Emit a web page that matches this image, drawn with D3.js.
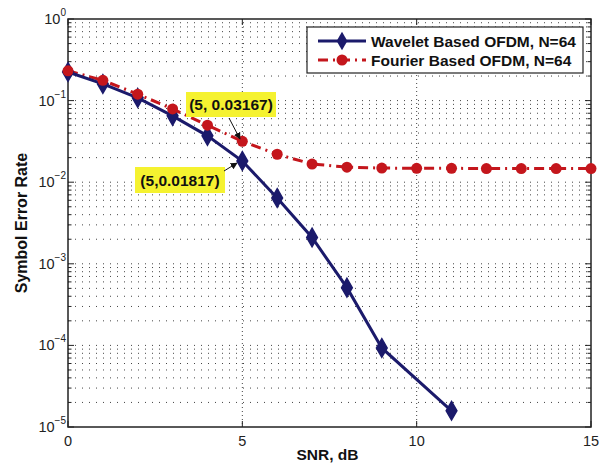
<!DOCTYPE html>
<html><head><meta charset="utf-8">
<script src="https://cdn.jsdelivr.net/npm/d3@7"></script>
<style>body{margin:0;background:#fff}svg{display:block}</style>
</head><body>
<script>
const snr = [0,1,2,3,4,5,6,7,8,9,10,11,12,13,14,15];
const waveletX = [0,1,2,3,4,5,6,7,8,9,11];
const waveletSER = [0.224,0.16,0.108,0.065,0.037,0.01817,0.0064,0.0021,0.00051,0.000093,0.0000158];
const fourierSER = [0.232,0.177,0.12,0.079,0.05,0.03167,0.022,0.0167,0.0153,0.0149,0.0148,0.0148,0.0147,0.0147,0.0147,0.0147];
const xTicks = [0,5,10,15];
const yExps = [0,-1,-2,-3,-4,-5];
const seriesNames = ["Wavelet Based OFDM, N=64","Fourier Based OFDM, N=64"];
const annotations = [
  {x:5, y:0.03167, label:"(5, 0.03167)"},
  {x:5, y:0.01817, label:"(5,0.01817)"}
];

const W=603,H=468, L=68,R=591,T=19,B=427;
const blue="#1b1a6b", red="#c4161c";
const svg=d3.select("body").append("svg").attr("width",W).attr("height",H);
const x=d3.scaleLinear().domain([0,15]).range([L,R]);
const y=d3.scaleLog().domain([1e-5,1]).range([B,T]);

// grid
const minor=[];
for(let e=-5;e<0;e++) for(let m=1;m<10;m++) minor.push(m*Math.pow(10,e));
minor.push(1);
const g=svg.append("g");
g.selectAll(".hg").data(minor.filter(v=>v>1e-5&&v<1)).enter().append("line")
 .attr("x1",L).attr("x2",R).attr("y1",d=>y(d)).attr("y2",d=>y(d))
 .attr("stroke","#444").attr("stroke-width",1).attr("stroke-dasharray","1,6");
g.selectAll(".vg").data(xTicks.slice(1,-1)).enter().append("line")
 .attr("x1",d=>x(d)).attr("x2",d=>x(d)).attr("y1",T).attr("y2",B)
 .attr("stroke","#444").attr("stroke-width",1).attr("stroke-dasharray","1,3");

// frame
svg.append("rect").attr("x",L).attr("y",T).attr("width",R-L).attr("height",B-T)
 .attr("fill","none").attr("stroke","#222").attr("stroke-width",1.5);

// ticks inside both sides
const tk=svg.append("g").attr("stroke","#222").attr("stroke-width",1);
minor.forEach(v=>{
  const len = (Math.abs(Math.log10(v)-Math.round(Math.log10(v)))<1e-9)?6:3.5;
  tk.append("line").attr("x1",L).attr("x2",L+len).attr("y1",y(v)).attr("y2",y(v));
  tk.append("line").attr("x1",R).attr("x2",R-len).attr("y1",y(v)).attr("y2",y(v));
});
xTicks.forEach(v=>{
  tk.append("line").attr("x1",x(v)).attr("x2",x(v)).attr("y1",B).attr("y2",B-6);
  tk.append("line").attr("x1",x(v)).attr("x2",x(v)).attr("y1",T).attr("y2",T+6);
});

// axis labels
const font="Liberation Sans, Arial, sans-serif";
svg.append("g").selectAll("text").data(xTicks).enter().append("text")
 .attr("x",d=>x(d)).attr("y",B+19).attr("text-anchor","middle")
 .attr("font-family",font).attr("font-size",14.5).attr("fill","#222").text(d=>d);
const yl=svg.append("g").selectAll("text").data(yExps).enter().append("text")
 .attr("x",L-14).attr("y",d=>y(Math.pow(10,d))+5).attr("text-anchor","end")
 .attr("font-family",font).attr("font-size",14.5).attr("fill","#222");
yl.append("tspan").text("10");
yl.append("tspan").attr("dy",-8).attr("font-size",10).text(d=>d===0?"0":"\u2212"+(-d));
yl.attr("transform",d=>"translate(12,0)");

svg.append("text").attr("x",(L+R)/2-2).attr("y",460).attr("text-anchor","middle")
 .attr("font-family",font).attr("font-weight","bold").attr("font-size",15.5).attr("fill","#111").text("SNR, dB");
svg.append("text").attr("transform",`translate(27,${(T+B)/2}) rotate(-90)`).attr("text-anchor","middle")
 .attr("font-family",font).attr("font-weight","bold").attr("font-size",16).attr("fill","#111").text("Symbol Error Rate");

// lines
const fData=snr.map((s,i)=>[s,fourierSER[i]]);
const wData=waveletX.map((s,i)=>[s,waveletSER[i]]);
const line=d3.line().x(d=>x(d[0])).y(d=>y(d[1]));
svg.append("path").datum(fData).attr("d",line).attr("fill","none").attr("stroke",red)
 .attr("stroke-width",3).attr("stroke-dasharray","10,5,2,5");
svg.append("path").datum(wData).attr("d",line).attr("fill","none").attr("stroke",blue).attr("stroke-width",3);
const diamond=d3.symbol().type(d3.symbolDiamond).size(100);
svg.append("g").selectAll("path").data(wData).enter().append("path")
 .attr("d",diamond).attr("transform",d=>`translate(${x(d[0])},${y(d[1])})`)
 .attr("fill",blue).attr("stroke",blue).attr("stroke-width",1.5);
svg.append("g").selectAll("circle").data(fData).enter().append("circle")
 .attr("cx",d=>x(d[0])).attr("cy",d=>y(d[1])).attr("r",5.5).attr("fill",red);

// annotations
const boxes=[
 {a:annotations[0], bx:186, by:92, bw:90, bh:25, tail:[229,118], head:[240,139]},
 {a:annotations[1], bx:135, by:167, bw:90, bh:26, tail:[224,171], head:[237,163]}
];
svg.append("defs").append("marker").attr("id","ah").attr("viewBox","0 0 10 10").attr("refX",9).attr("refY",5)
 .attr("markerWidth",7).attr("markerHeight",7).attr("orient","auto")
 .append("path").attr("d","M0,0 L10,5 L0,10 z").attr("fill","#111");
boxes.forEach(b=>{
  svg.append("rect").attr("x",b.bx).attr("y",b.by).attr("width",b.bw).attr("height",b.bh).attr("fill","#f5f230");
  svg.append("text").attr("x",b.bx+b.bw/2).attr("y",b.by+b.bh/2+5.5).attr("text-anchor","middle")
   .attr("font-family",font).attr("font-weight","bold").attr("font-size",15.5).attr("fill","#111").text(b.a.label);
  svg.append("line").attr("x1",b.tail[0]).attr("y1",b.tail[1]).attr("x2",b.head[0]).attr("y2",b.head[1])
   .attr("stroke","#111").attr("stroke-width",1).attr("marker-end","url(#ah)");
});

// legend
const lg=svg.append("g");
lg.append("rect").attr("x",307).attr("y",27).attr("width",276).attr("height",46)
 .attr("fill","#fff").attr("stroke","#222").attr("stroke-width",1.2);
const rows=[{c:blue,dash:null,sym:"d"},{c:red,dash:"10,5,2,5",sym:"c"}];
rows.forEach((r,i)=>{
  const yy=41+i*19, x0=318, x1=366, xm=(x0+x1)/2;
  lg.append("line").attr("x1",x0).attr("x2",x1).attr("y1",yy).attr("y2",yy).attr("stroke",r.c)
   .attr("stroke-width",3).attr("stroke-dasharray",r.dash);
  if(r.sym==="d") lg.append("path").attr("d",diamond).attr("transform",`translate(${xm},${yy})`).attr("fill",blue);
  else lg.append("circle").attr("cx",xm).attr("cy",yy).attr("r",5.5).attr("fill",red);
  lg.append("text").attr("x",371).attr("y",yy+5.5).attr("font-family",font).attr("font-weight","bold")
   .attr("font-size",15.5).attr("fill","#111").text(seriesNames[i]);
});
</script>
</body></html>
